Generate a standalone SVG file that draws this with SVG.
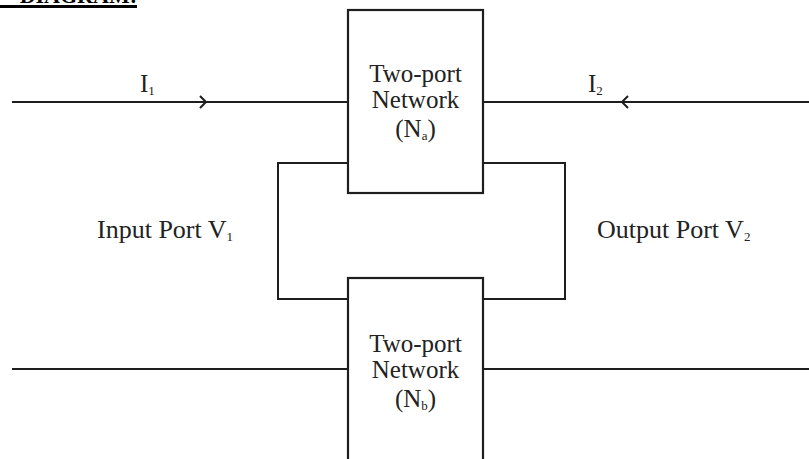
<svg xmlns="http://www.w3.org/2000/svg" width="809" height="459" viewBox="0 0 809 459">
<style>
.ln{stroke:#1e1e1e;stroke-width:2;fill:none}
.bx{stroke:#1e1e1e;stroke-width:2.2;fill:#fff}
.t{font-family:"Liberation Serif","Times New Roman",serif;font-size:25px;fill:#222}
.p{font-size:26px}
.s{font-size:13px}
.h{font-family:"Liberation Serif","Times New Roman",serif;font-size:22px;font-weight:bold;fill:#000}
</style>
<rect width="809" height="459" fill="#fff"/>
<g id="header">
<text class="h" x="137" y="3" text-anchor="end">DIAGRAM:</text>
<line x1="0" y1="6.5" x2="137" y2="6.5" stroke="#000" stroke-width="3"/>
</g>
<g id="connectors">
<line class="ln" x1="12" y1="102" x2="348" y2="102"/>
<polyline class="ln" points="200,96 206,102 200,108"/>
<line class="ln" x1="483" y1="102" x2="809" y2="102"/>
<polyline class="ln" points="628,96 622,102 628,108"/>
<polyline class="ln" points="348,163 278,163 278,299 348,299"/>
<polyline class="ln" points="483,163 565,163 565,299 483,299"/>
<line class="ln" x1="12" y1="369" x2="348" y2="369"/>
<line class="ln" x1="483" y1="369" x2="809" y2="369"/>
</g>
<g id="network-a">
<rect class="bx" x="348" y="10" width="135" height="183"/>
<text class="t" x="415.5" y="82" text-anchor="middle">Two-port</text>
<text class="t" x="415.5" y="108" text-anchor="middle">Network</text>
<text class="t" x="415.5" y="137" text-anchor="middle">(N<tspan class="s" dy="3">a</tspan><tspan dy="-3">)</tspan></text>
</g>
<g id="network-b">
<rect class="bx" x="348" y="278" width="135" height="190"/>
<text class="t" x="415.5" y="352" text-anchor="middle">Two-port</text>
<text class="t" x="415.5" y="378" text-anchor="middle">Network</text>
<text class="t" x="415.5" y="407" text-anchor="middle">(N<tspan class="s" dy="3">b</tspan><tspan dy="-3">)</tspan></text>
</g>
<g id="labels">
<text class="t" x="140" y="92">I<tspan class="s" dy="3">1</tspan></text>
<text class="t" x="588" y="92">I<tspan class="s" dy="3">2</tspan></text>
<text class="t p" x="97" y="238">Input Port V<tspan class="s" dy="3">1</tspan></text>
<text class="t p" x="597" y="238">Output Port V<tspan class="s" dy="3">2</tspan></text>
</g>
</svg>
